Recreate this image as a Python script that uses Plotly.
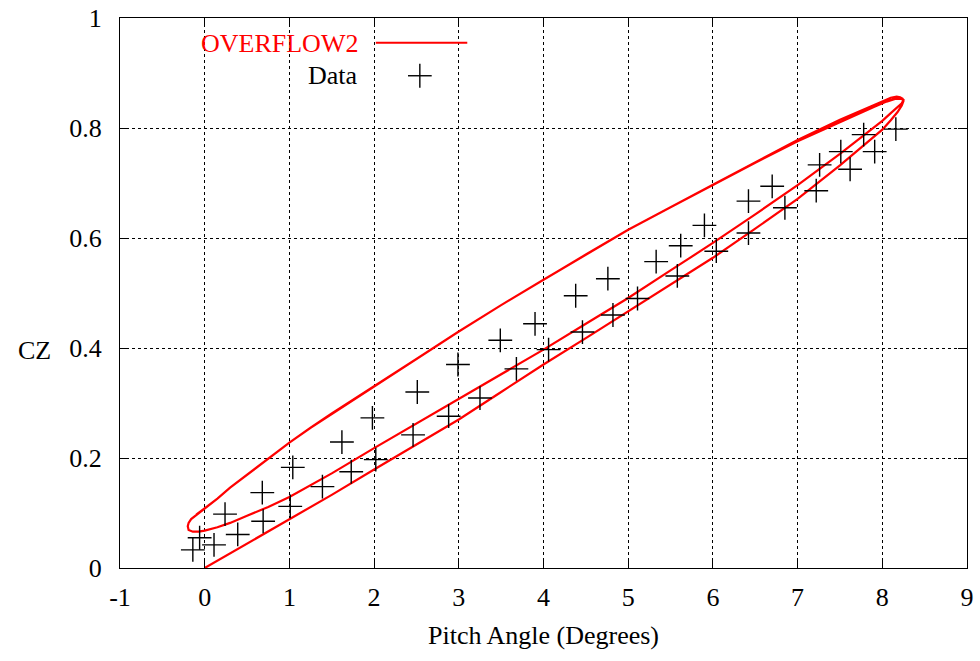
import plotly.graph_objects as go

# ---- data: measured points ----
data_x = [-0.14, -0.06, 0.11, 0.24, 0.39, 0.68, 0.69, 1.04, 1.01, 1.39, 1.62, 1.73, 1.98, 2.02,
          2.51, 2.46, 2.99, 2.88, 3.49, 3.25, 3.90, 3.68, 4.06, 4.38, 4.46, 4.76, 4.82, 5.11,
          5.33, 5.62, 5.58, 5.90, 6.04, 6.42, 6.42, 6.70, 6.85, 7.26, 7.22, 7.51, 7.62, 7.78,
          7.91, 8.16]
data_y = [0.033, 0.055, 0.042, 0.098, 0.061, 0.137, 0.085, 0.183, 0.112, 0.148, 0.229, 0.175,
          0.273, 0.197, 0.320, 0.242, 0.370, 0.276, 0.414, 0.309, 0.444, 0.362, 0.397, 0.495,
          0.429, 0.526, 0.460, 0.490, 0.557, 0.586, 0.531, 0.623, 0.576, 0.667, 0.609, 0.694,
          0.655, 0.733, 0.686, 0.757, 0.725, 0.788, 0.757, 0.798]

# ---- OVERFLOW2 computed loop, branch by branch ----
lower_up_x = [0, 0.5, 1.0, 1.5, 2.0, 2.5, 3.0, 3.5, 4.0, 4.5, 5.0, 5.5, 6.0, 6.5, 7.0, 7.5, 8.0,
              8.1, 8.18, 8.23, 8.25]
lower_up_y = [0, 0.044, 0.088, 0.133, 0.179, 0.224, 0.270, 0.320, 0.370, 0.418, 0.467, 0.515,
              0.564, 0.617, 0.671, 0.732, 0.797, 0.814, 0.829, 0.841, 0.849]

upper_down_x = [8.25, 8.24, 8.21, 8.17, 8.1, 8.0, 7.5, 7.0, 6.5, 6.0, 5.5, 5.0, 4.5, 4.0, 3.5,
                3.0, 2.5, 2.0, 1.5, 1.25, 1.0, 0.75, 0.5, 0.3, 0.15, 0.0, -0.1, -0.16, -0.19,
                -0.2]
upper_down_y = [0.849, 0.853, 0.856, 0.857, 0.855, 0.848, 0.815, 0.778, 0.738, 0.697, 0.656,
                0.615, 0.570, 0.524, 0.478, 0.430, 0.380, 0.331, 0.281, 0.255, 0.228, 0.199,
                0.170, 0.146, 0.126, 0.108, 0.097, 0.089, 0.082, 0.076]

middle_up_x = [-0.2, -0.19, -0.14, -0.07, 0.0, 0.15, 0.3, 0.5, 0.75, 1.0, 1.25, 1.5, 2.0, 2.5,
               3.0, 3.5, 4.0, 4.5, 5.0, 5.5, 6.0, 6.5, 7.0, 7.5, 8.0, 8.1, 8.18, 8.23, 8.25]
middle_up_y = [0.076, 0.069, 0.066, 0.066, 0.068, 0.074, 0.082, 0.095, 0.111, 0.129, 0.150,
               0.172, 0.218, 0.263, 0.307, 0.352, 0.397, 0.444, 0.491, 0.541, 0.591, 0.643,
               0.696, 0.753, 0.813, 0.827, 0.838, 0.845, 0.851]

upper2_down_x = [8.25, 8.22, 8.15, 8.05, 7.9, 7.5, 7.0, 6.5, 6.0, 5.5, 5.0, 4.5, 4.0, 3.5, 3.0,
                 2.5, 2.0, 1.5, 1.25, 1.0, 0.75, 0.5, 0.3, 0.15, 0.0, -0.1]
upper2_down_y = [0.851, 0.853, 0.853, 0.848, 0.838, 0.811, 0.776, 0.737, 0.697, 0.656, 0.615,
                 0.570, 0.524, 0.478, 0.430, 0.380, 0.331, 0.281, 0.255, 0.228, 0.199, 0.170,
                 0.146, 0.126, 0.108, 0.097]

x_ticks = [-1, 0, 1, 2, 3, 4, 5, 6, 7, 8, 9]
x_tick_labels = ["-1", "0", "1", "2", "3", "4", "5", "6", "7", "8", "9"]
y_ticks = [0, 0.2, 0.4, 0.6, 0.8, 1.0]
y_tick_labels = ["0", "0.2", "0.4", "0.6", "0.8", "1"]

curve_x = lower_up_x + upper_down_x + middle_up_x + upper2_down_x
curve_y = lower_up_y + upper_down_y + middle_up_y + upper2_down_y

FONT = "Liberation Serif, Times New Roman, serif"
FS = 26

fig = go.Figure()
fig.add_trace(go.Scatter(x=curve_x, y=curve_y, mode="lines", name="OVERFLOW2",
                         line=dict(color="#ff0000", width=2.2), showlegend=False))
fig.add_trace(go.Scatter(x=data_x, y=data_y, mode="markers", name="Data",
                         marker=dict(symbol="cross-thin", size=17,
                                     line=dict(color="black", width=1.4)),
                         showlegend=False))

# gnuplot-style legend (text right, sample on the right)
fig.add_annotation(xref="paper", yref="paper", x=0.283, y=0.953, text="OVERFLOW2",
                   showarrow=False, xanchor="right", yanchor="middle",
                   font=dict(family=FONT, size=FS, color="#ff0000"))
fig.add_annotation(xref="paper", yref="paper", x=0.283, y=0.895, text="Data",
                   showarrow=False, xanchor="right", yanchor="middle",
                   font=dict(family=FONT, size=FS, color="black"))
fig.add_shape(type="line", xref="paper", yref="paper", x0=0.302, x1=0.410, y0=0.955, y1=0.955,
              line=dict(color="#ff0000", width=2.2))
fig.add_shape(type="line", xref="paper", yref="paper", x0=0.340, x1=0.368, y0=0.895, y1=0.895,
              line=dict(color="black", width=1.4))
fig.add_shape(type="line", xref="paper", yref="paper", x0=0.354, x1=0.354, y0=0.873, y1=0.917,
              line=dict(color="black", width=1.4))

axis_common = dict(showline=True, linecolor="black", linewidth=1.2, mirror="ticks",
                   ticks="inside", ticklen=9, tickcolor="black", tickwidth=1,
                   showgrid=True, gridcolor="black", gridwidth=1, griddash="dot",
                   zeroline=False, automargin=False,
                   tickfont=dict(family=FONT, size=FS, color="black"))

fig.update_xaxes(range=[-1, 9], tickvals=x_ticks, ticktext=x_tick_labels,
                 title=dict(text="Pitch Angle (Degrees)", font=dict(family=FONT, size=FS, color="black"),
                            standoff=14),
                 ticklabelstandoff=6, **axis_common)
fig.update_yaxes(range=[0, 1], tickvals=y_ticks, ticktext=y_tick_labels,
                 title=dict(text=""),
                 ticklabelstandoff=12, **axis_common)

fig.add_annotation(xref="paper", yref="paper", x=-0.101, y=0.395, text="CZ", showarrow=False,
                   xanchor="center", yanchor="middle",
                   font=dict(family=FONT, size=FS, color="black"))

fig.update_layout(width=980, height=661, plot_bgcolor="white", paper_bgcolor="white",
                  margin=dict(l=120, r=13, t=18, b=93), showlegend=False)

fig.write_html("out.html")
